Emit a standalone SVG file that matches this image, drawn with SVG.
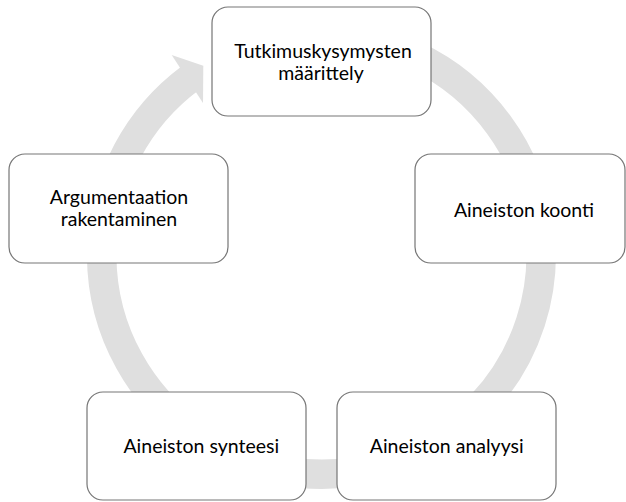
<svg xmlns="http://www.w3.org/2000/svg" width="626" height="502" viewBox="0 0 626 502">
  <style>
    .node rect { fill: #ffffff; stroke: #767676; stroke-width: 1.2; }
    .node text { font-family: Lato, "Open Sans", "Liberation Sans", sans-serif; font-size: 19.5px; fill: #000000; text-anchor: middle; }
    .ring { fill: none; stroke: #dfdfdf; stroke-width: 29.5; stroke-linecap: butt; }
    .head { fill: #dfdfdf; stroke: none; }
  </style>
  <rect x="0" y="0" width="626" height="502" fill="#ffffff"/>
  <g id="connectors">
    <path class="ring" d="M 321.5 34.75 A 219.75 219.75 0 1 1 190.5 78.0"/>
    <polygon class="head" points="171.7,55 203.3,65.7 203,103"/>
  </g>
  <g id="node-tutkimuskysymysten" class="node">
    <rect x="212" y="7" width="219" height="109" rx="16" ry="16"/>
    <text x="323" y="57.7">Tutkimuskysymysten</text>
    <text x="321" y="80">määrittely</text>
  </g>
  <g id="node-koonti" class="node">
    <rect x="415" y="154" width="210" height="109" rx="16" ry="16"/>
    <text x="524" y="216.7">Aineiston koonti</text>
  </g>
  <g id="node-analyysi" class="node">
    <rect x="337" y="392" width="219" height="108" rx="16" ry="16"/>
    <text x="446.7" y="452.7">Aineiston analyysi</text>
  </g>
  <g id="node-synteesi" class="node">
    <rect x="87" y="392" width="219" height="108" rx="16" ry="16"/>
    <text x="201.3" y="452.7">Aineiston synteesi</text>
  </g>
  <g id="node-argumentaatio" class="node">
    <rect x="9" y="154" width="219" height="109" rx="16" ry="16"/>
    <text x="119" y="204">Argumentaation</text>
    <text x="119" y="226.3">rakentaminen</text>
  </g>
</svg>
